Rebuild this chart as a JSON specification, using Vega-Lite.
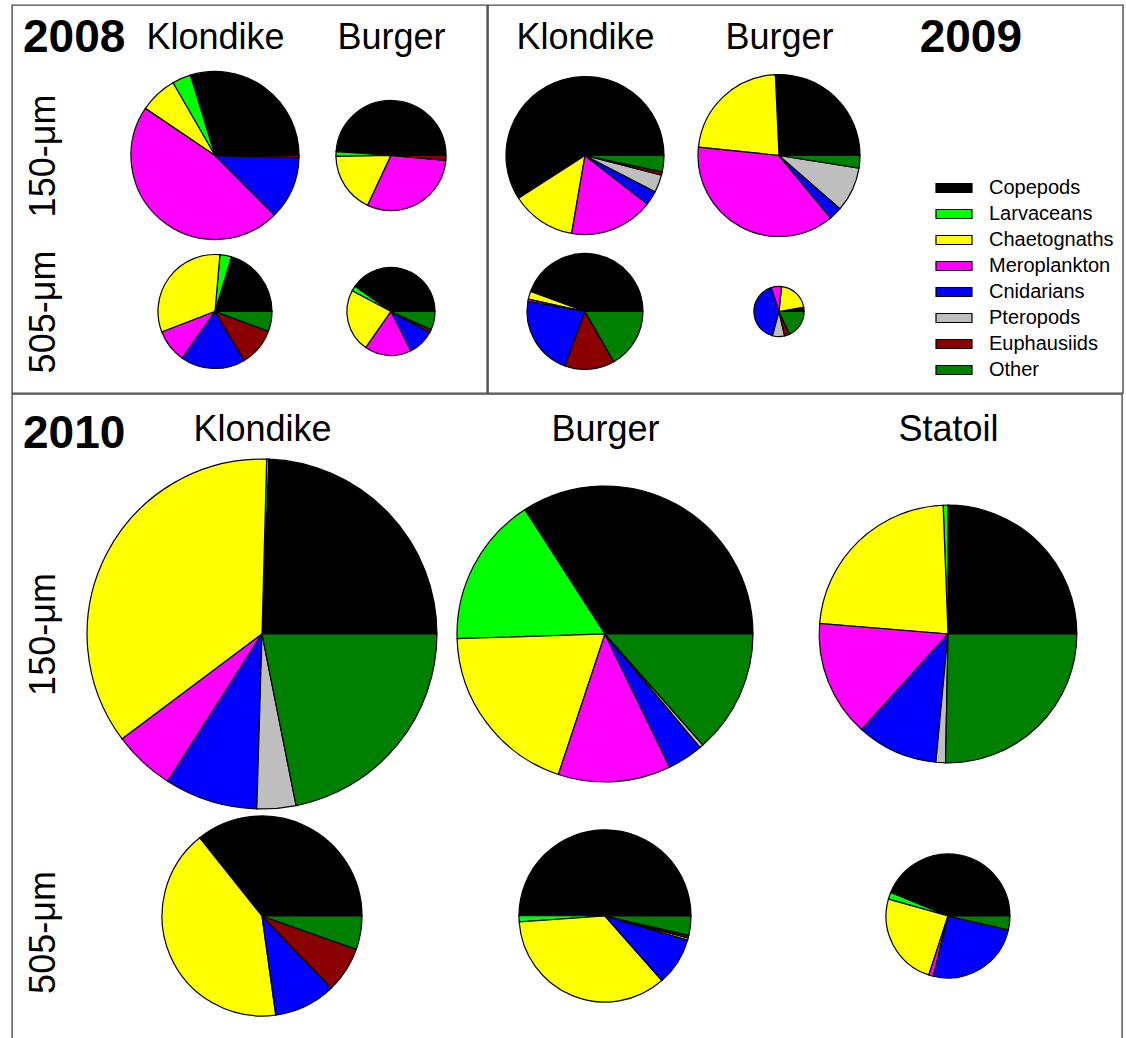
{
  "$schema": "https://vega.github.io/schema/vega-lite/v6.json",
  "padding": {"left": 11, "top": 4, "right": 0, "bottom": 0},
  "background": "white",
  "datasets": {
    "zoo": [
      {"year": 2008, "site": "Klondike", "mesh": "150-μm", "abundance": 70.6, "Copepods": 29.7, "Larvaceans": 3.6, "Chaetognaths": 7.2, "Meroplankton": 46.9, "Cnidarians": 12.1, "Pteropods": 0, "Euphausiids": 0.4, "Other": 0},
      {"year": 2008, "site": "Burger", "mesh": "150-μm", "abundance": 30.3, "Copepods": 48.9, "Larvaceans": 1.4, "Chaetognaths": 17.8, "Meroplankton": 30.6, "Cnidarians": 0, "Pteropods": 0, "Euphausiids": 1.4, "Other": 0},
      {"year": 2008, "site": "Klondike", "mesh": "505-μm", "abundance": 32.5, "Copepods": 20.3, "Larvaceans": 3.3, "Chaetognaths": 32.2, "Meroplankton": 9.4, "Cnidarians": 18.3, "Pteropods": 0, "Euphausiids": 10.8, "Other": 5.6},
      {"year": 2008, "site": "Burger", "mesh": "505-μm", "abundance": 19.4, "Copepods": 40.3, "Larvaceans": 1.9, "Chaetognaths": 23.1, "Meroplankton": 17.2, "Cnidarians": 9.7, "Pteropods": 0, "Euphausiids": 1.1, "Other": 6.7},
      {"year": 2009, "site": "Klondike", "mesh": "150-μm", "abundance": 62.4, "Copepods": 59.1, "Larvaceans": 0, "Chaetognaths": 13.2, "Meroplankton": 17.2, "Cnidarians": 2.9, "Pteropods": 3.6, "Euphausiids": 0.7, "Other": 3.3},
      {"year": 2009, "site": "Burger", "mesh": "150-μm", "abundance": 65.6, "Copepods": 25.7, "Larvaceans": 0, "Chaetognaths": 22.6, "Meroplankton": 37.6, "Cnidarians": 2.6, "Pteropods": 8.9, "Euphausiids": 0, "Other": 2.5},
      {"year": 2009, "site": "Klondike", "mesh": "505-μm", "abundance": 33.6, "Copepods": 44.4, "Larvaceans": 0, "Chaetognaths": 2.2, "Meroplankton": 0.6, "Cnidarians": 22.2, "Pteropods": 0, "Euphausiids": 13.9, "Other": 16.7},
      {"year": 2009, "site": "Burger", "mesh": "505-μm", "abundance": 6.3, "Copepods": 2.8, "Larvaceans": 0, "Chaetognaths": 20.6, "Meroplankton": 6.7, "Cnidarians": 40.8, "Pteropods": 7.8, "Euphausiids": 3.3, "Other": 18.1},
      {"year": 2010, "site": "Klondike", "mesh": "150-μm", "abundance": 306, "Copepods": 24.4, "Larvaceans": 0.2, "Chaetognaths": 35.7, "Meroplankton": 5.7, "Cnidarians": 8.6, "Pteropods": 3.6, "Euphausiids": 0, "Other": 21.9},
      {"year": 2010, "site": "Burger", "mesh": "150-μm", "abundance": 219, "Copepods": 34.1, "Larvaceans": 16.4, "Chaetognaths": 19.4, "Meroplankton": 12.3, "Cnidarians": 3.9, "Pteropods": 0.4, "Euphausiids": 0, "Other": 13.5},
      {"year": 2010, "site": "Statoil", "mesh": "150-μm", "abundance": 166, "Copepods": 25.0, "Larvaceans": 0.6, "Chaetognaths": 23.1, "Meroplankton": 14.6, "Cnidarians": 10.2, "Pteropods": 1.2, "Euphausiids": 0, "Other": 25.3},
      {"year": 2010, "site": "Klondike", "mesh": "505-μm", "abundance": 100, "Copepods": 35.7, "Larvaceans": 0, "Chaetognaths": 41.5, "Meroplankton": 0, "Cnidarians": 10.0, "Pteropods": 0, "Euphausiids": 7.4, "Other": 5.4},
      {"year": 2010, "site": "Burger", "mesh": "505-μm", "abundance": 74, "Copepods": 49.9, "Larvaceans": 1.2, "Chaetognaths": 35.4, "Meroplankton": 0, "Cnidarians": 9.0, "Pteropods": 0.4, "Euphausiids": 0.5, "Other": 3.6},
      {"year": 2010, "site": "Statoil", "mesh": "505-μm", "abundance": 38.4, "Copepods": 43.8, "Larvaceans": 1.8, "Chaetognaths": 24.4, "Meroplankton": 1.2, "Cnidarians": 25.2, "Pteropods": 0, "Euphausiids": 0, "Other": 3.6}
    ]
  },
  "config": {
    "view": {"stroke": "#4a4a4a", "strokeWidth": 1.4},
    "font": "Liberation Sans",
    "axis": {"labelColor": "black"}
  },
  "spacing": -1.4,
  "vconcat": [
    {
      "spacing": -1.4,
      "hconcat": [
        {
          "width": 475,
          "height": 388,
          "data": {"name": "zoo"},
          "title": {"text": "2008", "anchor": "start", "frame": "group", "orient": "top", "offset": -51, "baseline": "alphabetic", "dx": 11, "dy": 42, "fontSize": 46, "fontWeight": "bold", "font": "Liberation Sans", "color": "black"},
          "transform": [
            {"filter": "datum.year == 2008"},
            {"fold": ["Copepods", "Larvaceans", "Chaetognaths", "Meroplankton", "Cnidarians", "Pteropods", "Euphausiids", "Other"], "as": ["taxon", "pct"]},
            {"filter": "datum.pct > 0"},
            {"stack": "pct", "groupby": ["year", "site", "mesh"], "offset": "normalize", "as": ["f0", "f1"]}
          ],
          "mark": {"type": "arc", "stroke": "black", "strokeWidth": 1.2},
          "encoding": {
            "x": {"field": "site", "type": "nominal", "scale": {"type": "point", "domain": ["Klondike", "Burger"], "range": [203, 379], "padding": 0},
              "axis": {"orient": "top", "title": null, "domain": false, "ticks": false, "tickSize": 0, "grid": false, "labelAngle": 0, "labelFontSize": 36, "labelPadding": -43, "labelBaseline": "alphabetic"}},
            "y": {"field": "mesh", "type": "nominal", "scale": {"type": "point", "domain": ["150-μm", "505-μm"], "range": [150.5, 306.5], "padding": 0},
              "axis": {"orient": "left", "title": null, "domain": false, "ticks": false, "tickSize": 0, "grid": false, "labelAngle": 270, "labelAlign": "center", "labelBaseline": "alphabetic", "labelFontSize": 36, "labelPadding": -42, "labelLimit": 400}},
            "theta": {"field": "f0", "type": "quantitative", "scale": {"domain": [0, 1], "range": [1.5708, -4.7124]}},
            "theta2": {"field": "f1"},
            "radius": {"field": "abundance", "type": "quantitative", "scale": {"type": "sqrt", "domain": [0, 400], "range": [0, 200], "zero": true}},
            "color": {"field": "taxon", "type": "nominal",
              "scale": {"domain": ["Copepods", "Larvaceans", "Chaetognaths", "Meroplankton", "Cnidarians", "Pteropods", "Euphausiids", "Other"], "range": ["#000000", "#00ff00", "#ffff00", "#ff00ff", "#0000ff", "#bebebe", "#8b0000", "#008000"]},
              "legend": {"orient": "none", "legendX": 932, "legendY": 173, "title": null, "symbolType": "M-2,-0.5H2V0.5H-2Z", "symbolSize": 324, "symbolStrokeColor": "black", "symbolStrokeWidth": 1.2, "symbolOpacity": 1, "labelFontSize": 20, "labelFont": "Liberation Sans", "labelColor": "black", "labelOffset": 25, "rowPadding": 6, "padding": 0}}
          }
        },
        {
          "width": 635,
          "height": 388,
          "data": {"name": "zoo"},
          "title": {"text": "2009", "anchor": "end", "frame": "group", "orient": "top", "offset": -51, "baseline": "alphabetic", "dx": -101, "dy": 42, "fontSize": 46, "fontWeight": "bold", "font": "Liberation Sans", "color": "black"},
          "transform": [
            {"filter": "datum.year == 2009"},
            {"fold": ["Copepods", "Larvaceans", "Chaetognaths", "Meroplankton", "Cnidarians", "Pteropods", "Euphausiids", "Other"], "as": ["taxon", "pct"]},
            {"filter": "datum.pct > 0"},
            {"stack": "pct", "groupby": ["year", "site", "mesh"], "offset": "normalize", "as": ["f0", "f1"]}
          ],
          "mark": {"type": "arc", "stroke": "black", "strokeWidth": 1.2},
          "encoding": {
            "x": {"field": "site", "type": "nominal", "scale": {"type": "point", "domain": ["Klondike", "Burger"], "range": [97, 291], "padding": 0},
              "axis": {"orient": "top", "title": null, "domain": false, "ticks": false, "tickSize": 0, "grid": false, "labelAngle": 0, "labelFontSize": 36, "labelPadding": -43, "labelBaseline": "alphabetic"}},
            "y": {"field": "mesh", "type": "nominal", "scale": {"type": "point", "domain": ["150-μm", "505-μm"], "range": [150.5, 306.5], "padding": 0}, "axis": null},
            "theta": {"field": "f0", "type": "quantitative", "scale": {"domain": [0, 1], "range": [1.5708, -4.7124]}},
            "theta2": {"field": "f1"},
            "radius": {"field": "abundance", "type": "quantitative", "scale": {"type": "sqrt", "domain": [0, 400], "range": [0, 200], "zero": true}},
            "color": {"field": "taxon", "type": "nominal",
              "scale": {"domain": ["Copepods", "Larvaceans", "Chaetognaths", "Meroplankton", "Cnidarians", "Pteropods", "Euphausiids", "Other"], "range": ["#000000", "#00ff00", "#ffff00", "#ff00ff", "#0000ff", "#bebebe", "#8b0000", "#008000"]}}
          }
        }
      ]
    },
    {
      "width": 1110,
      "height": 655,
      "data": {"name": "zoo"},
      "title": {"text": "2010", "anchor": "start", "frame": "group", "orient": "top", "offset": -55, "baseline": "alphabetic", "dx": 11, "dy": 45, "fontSize": 46, "fontWeight": "bold", "font": "Liberation Sans", "color": "black"},
      "transform": [
        {"filter": "datum.year == 2010"},
        {"fold": ["Copepods", "Larvaceans", "Chaetognaths", "Meroplankton", "Cnidarians", "Pteropods", "Euphausiids", "Other"], "as": ["taxon", "pct"]},
        {"filter": "datum.pct > 0"},
        {"stack": "pct", "groupby": ["year", "site", "mesh"], "offset": "normalize", "as": ["f0", "f1"]}
      ],
      "mark": {"type": "arc", "stroke": "black", "strokeWidth": 1.2},
      "encoding": {
        "x": {"field": "site", "type": "nominal", "scale": {"type": "point", "domain": ["Klondike", "Burger", "Statoil"], "range": [250, 936], "padding": 0},
          "axis": {"orient": "top", "title": null, "domain": false, "ticks": false, "tickSize": 0, "grid": false, "labelAngle": 0, "labelFontSize": 36, "labelPadding": -46, "labelBaseline": "alphabetic"}},
        "y": {"field": "mesh", "type": "nominal", "scale": {"type": "point", "domain": ["150-μm", "505-μm"], "range": [240, 522], "padding": 0},
          "axis": {"orient": "left", "title": null, "domain": false, "ticks": false, "tickSize": 0, "grid": false, "labelAngle": 270, "labelAlign": "center", "labelBaseline": "alphabetic", "labelFontSize": 36, "labelPadding": -42, "labelLimit": 400,
            "labelOffset": {"condition": {"test": "datum.value == '505-μm'", "value": 16}, "value": 0}}},
        "theta": {"field": "f0", "type": "quantitative", "scale": {"domain": [0, 1], "range": [1.5708, -4.7124]}},
        "theta2": {"field": "f1"},
        "radius": {"field": "abundance", "type": "quantitative", "scale": {"type": "sqrt", "domain": [0, 400], "range": [0, 200], "zero": true}},
        "color": {"field": "taxon", "type": "nominal",
          "scale": {"domain": ["Copepods", "Larvaceans", "Chaetognaths", "Meroplankton", "Cnidarians", "Pteropods", "Euphausiids", "Other"], "range": ["#000000", "#00ff00", "#ffff00", "#ff00ff", "#0000ff", "#bebebe", "#8b0000", "#008000"]}}
      }
    }
  ]
}
